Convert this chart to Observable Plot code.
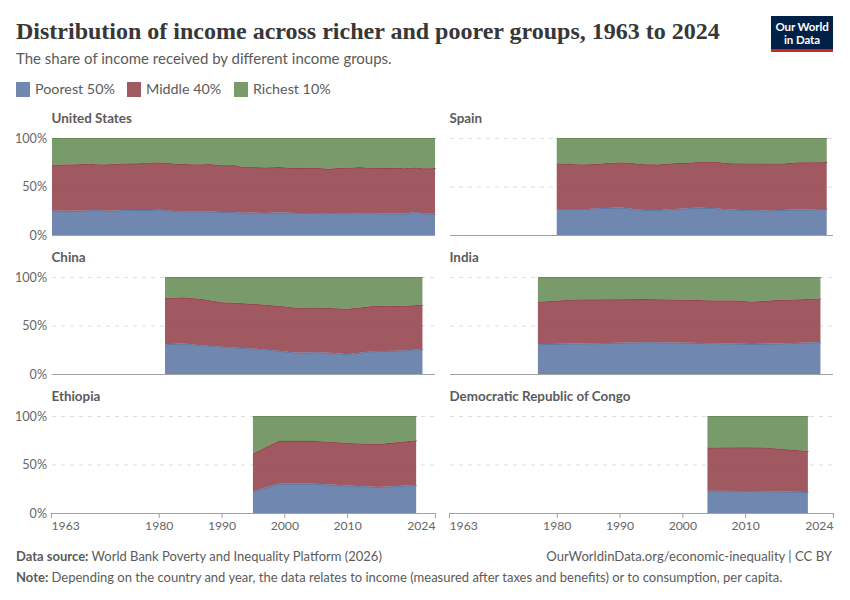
<!DOCTYPE html>
<html><head><meta charset="utf-8">
<script src="https://cdn.jsdelivr.net/npm/d3@7"></script>
<script src="https://cdn.jsdelivr.net/npm/@observablehq/plot@0.6"></script>
<style>
html,body{margin:0;padding:0;background:#fff;width:850px;height:600px;overflow:hidden;font-family:Lato,sans-serif;}
.t{position:absolute;white-space:nowrap;}
#title{left:16px;top:15px;font:700 24px/32px "Liberation Serif",serif;color:#373737;}
#sub{left:16px;top:49px;font-size:15px;line-height:18px;color:#5b5b5b;}
#logo{position:absolute;left:771px;top:16px;width:62px;height:36px;background:#002147;border-bottom:3px solid #ce261e;box-sizing:border-box;}
.lt{position:absolute;left:0;width:62px;text-align:center;color:#fff;font:700 11.5px/13px Lato,sans-serif;letter-spacing:-.1px;}
.sw{position:absolute;top:82px;width:14px;height:15px;}
.lg{top:80px;font-size:14.3px;line-height:18px;color:#5b5b5b;}
#chart{position:absolute;left:0;top:100px;}
.foot{font-size:13px;line-height:16px;color:#5b5b5b;}
</style></head><body>
<div id="title" class="t">Distribution of income across richer and poorer groups, 1963 to 2024</div>
<div id="sub" class="t">The share of income received by different income groups.</div>
<div id="logo"><div class="lt" style="top:4px">Our World</div><div class="lt" style="top:17px">in Data</div></div>
<div class="sw" style="left:16px;background:#7088b0"></div><div class="t lg" style="left:35px">Poorest 50%</div>
<div class="sw" style="left:127px;background:#a05961"></div><div class="t lg" style="left:146px">Middle 40%</div>
<div class="sw" style="left:234px;background:#799a6a"></div><div class="t lg" style="left:253px">Richest 10%</div>
<div id="chart"></div>
<div class="t foot" style="left:16px;top:548px"><b>Data source:</b> World Bank Poverty and Inequality Platform (2026)</div>
<div class="t foot" style="right:18px;top:548px;font-size:13.1px">OurWorldinData.org/economic-inequality | CC BY</div>
<div class="t foot" style="left:16px;top:569px"><b>Note:</b> Depending on the country and year, the data relates to income (measured after taxes and benefits) or to consumption, per capita.</div>
<script>
const groups = ["Poorest 50%", "Middle 40%", "Richest 10%"];
const groupColors = ["#4C6A9C", "#883039", "#578145"];
const xTicks = [1980, 1990, 2000, 2010];

const usYears = d3.range(1963, 2025);
const usPoorest = [24.9,25.0,25.1,24.9,24.9,25.1,25.6,
 25.7,25.3,25.0,25.2,25.6,25.9,25.9,25.8,25.9,25.9,
 26.0,25.7,24.9,24.6,24.4,24.4,24.4,24.4,24.3,23.9,
 23.8,23.8,23.6,22.9,23.0,23.1,22.9,22.8,22.9,23.1,
 23.1,23.0,22.8,22.6,22.6,22.6,22.5,22.7,22.7,22.5,
 22.6,22.4,22.3,22.5,22.4,22.3,22.2,22.1,22.1,21.9,
 23.0,23.7,22.0,21.9,21.8];
const usMiddle = [47.5,47.5,47.6,47.9,48.0,48.1,47.8,
 47.3,47.5,47.9,48.2,48.2,47.9,48.0,48.2,48.5,48.9,
 48.8,48.9,49.0,48.8,48.9,48.6,48.4,48.5,48.8,48.7,
 48.2,48.2,48.5,47.7,47.3,47.0,46.9,46.9,47.0,46.9,
 46.7,46.2,46.2,46.6,46.7,46.7,46.3,45.6,46.1,46.8,
 46.8,47.3,47.7,47.0,47.0,46.9,46.8,47.0,47.4,46.8,
 46.4,46.0,46.7,46.9,47.2];
const usRichest = [27.6,27.5,27.3,27.2,27.1,26.8,26.6,
 27.0,27.2,27.1,26.6,26.2,26.2,26.1,26.0,25.6,25.2,
 25.2,25.4,26.1,26.6,26.7,27.0,27.2,27.1,26.9,27.4,
 28.0,28.0,27.9,29.4,29.7,29.9,30.2,30.3,30.1,30.0,
 30.2,30.8,31.0,30.8,30.7,30.7,31.2,31.7,31.2,30.7,
 30.6,30.3,30.0,30.5,30.6,30.8,31.0,30.9,30.5,31.3,
 30.6,30.3,31.3,31.2,31.0];

const esYears = d3.range(1980, 2024);
const esPoorest = [26.9,26.9,26.9,26.9,26.9,26.9,27.3,27.8,27.9,28.1,28.3,27.8,27.1,26.2,25.9,25.7,25.5,26.0,26.7,26.9,27.2,27.7,28.0,28.0,27.9,27.9,27.0,26.6,26.2,25.9,25.8,25.5,25.4,25.2,25.3,25.7,25.9,26.0,26.2,26.2,26.0,26.6,26.9,26.9];
const esMiddle = [46.9,46.7,46.4,46.1,45.9,46.0,45.9,45.8,46.2,46.4,46.5,46.9,47.0,47.2,47.1,47.2,47.3,47.2,47.1,47.2,47.0,46.6,47.1,47.9,47.8,47.6,48.0,47.6,47.8,48.0,48.0,48.3,48.4,48.6,48.5,48.0,47.9,48.2,48.6,48.7,49.0,48.5,48.2,48.3];
const esRichest = [26.2,26.4,26.7,27.0,27.2,27.1,26.8,26.4,25.9,25.5,25.2,25.3,25.9,26.6,27.0,27.1,27.2,26.8,26.2,25.9,25.8,25.7,24.9,24.1,24.3,24.5,25.0,25.8,26.0,26.1,26.2,26.2,26.2,26.2,26.2,26.3,26.2,25.8,25.2,25.1,25.0,24.9,24.9,24.8];

const cnYears = [1981,1984,1987,1990,1993,1996,1999,2002,2005,2008,2010,2012,2014,2016,2018,2020,2022];
const cnPoorest = [30.7,31.4,29.5,28.2,26.9,25.9,24.0,21.8,22.4,21.6,20.3,22.0,23.5,23.8,24.0,24.8,25.9];
const cnMiddle = [47.6,47.6,47.7,45.7,46.2,46.1,46.3,46.5,46.2,46.2,46.9,46.6,46.5,46.5,46.0,45.9,45.5];
const cnRichest = [21.7,21.0,22.8,26.1,26.9,28.0,29.7,31.7,31.4,32.2,32.8,31.4,30.0,29.7,30.0,29.3,28.6];

const inYears = [1977,1983,1988,1994,2001,2005,2009,2011,2015,2019,2022];
const inPoorest = [30.7,31.4,31.9,32.8,32.1,31.8,31.2,30.9,31.4,32.2,32.8];
const inMiddle = [43.8,45.5,45.1,44.4,44.4,44.1,44.5,43.7,44.8,44.9,45.1];
const inRichest = [25.5,23.1,23.0,22.8,23.5,24.1,24.3,25.4,23.8,22.9,22.1];

const etYears = [1995,1999,2005,2011,2015,2021];
const etPoorest = [22.3,30.1,30.1,28.0,26.7,28.8];
const etMiddle = [39.3,44.2,44.2,43.9,44.5,46.2];
const etRichest = [38.4,25.7,25.7,28.1,28.8,25.0];

const cdYears = [2004,2010,2013,2020];
const cdPoorest = [22.9,22.8,22.5,21.6];
const cdMiddle = [44.6,45.0,45.1,42.4];
const cdRichest = [32.5,32.2,32.4,36.0];

const panels = [
  {name:"United States", col:0, row:0, years:usYears, s:[usPoorest,usMiddle,usRichest]},
  {name:"Spain", col:1, row:0, years:esYears, s:[esPoorest,esMiddle,esRichest]},
  {name:"China", col:0, row:1, years:cnYears, s:[cnPoorest,cnMiddle,cnRichest]},
  {name:"India", col:1, row:1, years:inYears, s:[inPoorest,inMiddle,inRichest]},
  {name:"Ethiopia", col:0, row:2, years:etYears, s:[etPoorest,etMiddle,etRichest]},
  {name:"Democratic Republic of Congo", col:1, row:2, years:cdYears, s:[cdPoorest,cdMiddle,cdRichest]}
];
const rows = panels.flatMap(p => groups.flatMap((g, k) =>
  p.years.map((year, i) => ({country:p.name, col:p.col, row:p.row, year, group:g, value:p.s[k][i]}))));

const ink = "#666";
const xAxis = {tickFormat: d => String(d), tickSize: 5, tickPadding: 3, label: null, facetAnchor: "bottom", stroke: "#a1a1a1", fill: ink, fontSize: 12.2};
const fig = Plot.plot({
  width: 850, height: 440,
  marginLeft: 52, marginRight: 17, marginTop: 38, marginBottom: 27,
  style: {fontFamily: "Lato, sans-serif", fontSize: "13px", background: "transparent"},
  x: {domain: [1963, 2024], label: null},
  y: {domain: [0, 100], label: null},
  fx: {domain: [0, 1], axis: null, paddingInner: 15/398, paddingOuter: 0, round: false, label: null},
  fy: {domain: [0, 1, 2], axis: null, paddingInner: 42/139, paddingOuter: 0, round: false, label: null},
  color: {domain: groups, range: groupColors},
  marks: [
    Plot.ruleY([50, 100], {stroke: "#dddddd", strokeDasharray: "4,5", strokeWidth: 1}),
    Plot.areaY(rows, {x: "year", y: "value", z: "group", fill: "group", fillOpacity: 0.8, fx: "col", fy: "row"}),
    Plot.lineY(rows, Plot.stackY2({x: "year", y: "value", z: "group", stroke: "group", strokeWidth: 0.5, fx: "col", fy: "row"})),
    Plot.ruleY([0], {stroke: "#a1a1a1", strokeWidth: 1}),
    Plot.axisY({ticks: [0, 50, 100], tickFormat: d => d + "%", tickSize: 0, tickPadding: 5.5, label: null, facetAnchor: "left", fill: ink, fontSize: 12.6}),
    Plot.axisX({...xAxis, ticks: xTicks}),
    Plot.axisX({...xAxis, ticks: [1963], textAnchor: "start", dx: -1}),
    Plot.axisX({...xAxis, ticks: [2024], textAnchor: "end"}),
    Plot.text(panels, {text: "name", fx: "col", fy: "row", frameAnchor: "top-left", dx: -1, dy: -20, lineAnchor: "middle", textAnchor: "start", fontWeight: 700, fontSize: 13.4, fill: "#5b5b5b"})
  ]
});
document.getElementById("chart").appendChild(fig);
</script>
</body></html>
